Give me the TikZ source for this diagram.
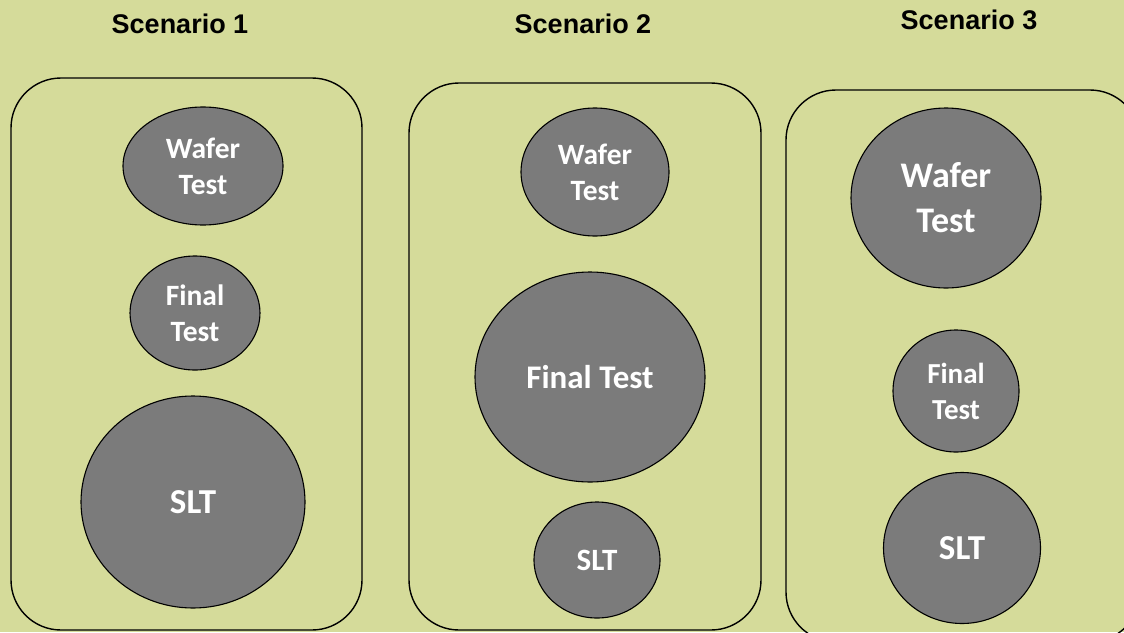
\documentclass[tikz,border=0pt]{standalone}
\usepackage{fontspec}
\setmainfont{Liberation Sans}
\newfontfamily\calib{Carlito}
\usetikzlibrary{shapes.geometric}
\definecolor{bgc}{RGB}{213,219,154}
\definecolor{blob}{RGB}{123,123,123}
\tikzset{
  panel/.style={draw=black, line width=1.4pt, rounded corners=50pt},
  blobnode/.style={ellipse, draw=black, line width=1.1pt, fill=blob, text=white, inner sep=0pt, align=center},
  title/.style={font=\bfseries\fontsize{27}{32}\selectfont, text=black, inner sep=0pt}
}
\begin{document}
\begin{tikzpicture}[x=1pt,y=-1pt]
\useasboundingbox (0,0) rectangle (1124,632);
\fill[bgc] (0,0) rectangle (1124,632);
\clip (0,0) rectangle (1124,632);
% titles
\node[title] (t1) at (180,24) {Scenario 1};
\node[title] (t2) at (583,24) {Scenario 2};
\node[title] (t3) at (969,20) {Scenario 3};
% panels
\draw[panel] (11,78) rectangle (362,630);
\draw[panel] (409,83) rectangle (761,630);
\draw[panel] (786,90) rectangle (1140,642);
% scenario 1
\node[blobnode, minimum width=160pt, minimum height=118pt, font=\calib\bfseries\fontsize{29.5}{36}\selectfont] (w1) at (203,166) {Wafer\\Test};
\node[blobnode, minimum width=130pt, minimum height=114pt, font=\calib\bfseries\fontsize{29.5}{36}\selectfont] (f1) at (195,313) {Final\\Test};
\node[blobnode, minimum width=224pt, minimum height=212pt, font=\calib\bfseries\fontsize{35}{40}\selectfont] (s1) at (193,502) {SLT};
% scenario 2
\node[blobnode, minimum width=148pt, minimum height=128pt, font=\calib\bfseries\fontsize{29.5}{36}\selectfont] (w2) at (595,172) {Wafer\\Test};
\node[blobnode, minimum width=230pt, minimum height=210pt, font=\calib\bfseries\fontsize{33}{38}\selectfont] (f2) at (590,377) {Final Test};
\node[blobnode, minimum width=126pt, minimum height=116pt, font=\calib\bfseries\fontsize{31}{36}\selectfont] (s2) at (597,560) {SLT};
% scenario 3
\node[blobnode, minimum width=190pt, minimum height=180pt, font=\calib\bfseries\fontsize{36}{45}\selectfont] (w3) at (946,198) {Wafer\\Test};
\node[blobnode, minimum width=126pt, minimum height=122pt, font=\calib\bfseries\fontsize{29}{36}\selectfont] (f3) at (956,391) {Final\\Test};
\node[blobnode, minimum width=157pt, minimum height=151pt, font=\calib\bfseries\fontsize{35}{40}\selectfont] (s3) at (962,548) {SLT};
\end{tikzpicture}
\end{document}
